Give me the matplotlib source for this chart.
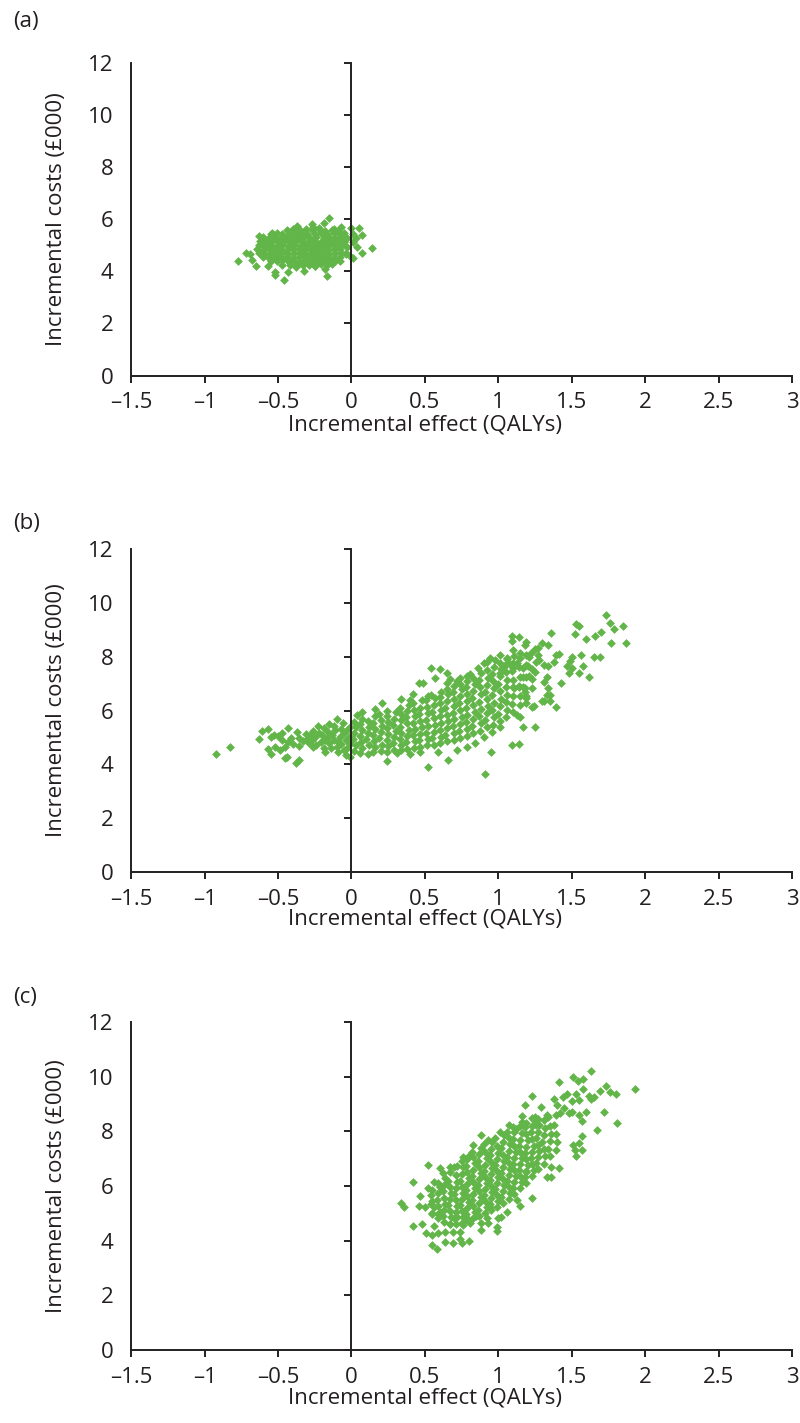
import matplotlib
matplotlib.use('Agg')
import matplotlib.pyplot as plt

plt.rcParams['font.family'] = ['Open Sans', 'DejaVu Sans']

green = '#62b548'
dark = '#231f20'

x_ticks = [-1.5, -1, -0.5, 0, 0.5, 1, 1.5, 2, 2.5, 3]
x_tick_labels = ['\u20131.5', '\u20131', '\u20130.5', '0', '0.5', '1', '1.5', '2', '2.5', '3']
y_ticks = [0, 2, 4, 6, 8, 10, 12]
panel_labels = ['(a)', '(b)', '(c)']
x_title = 'Incremental effect (QALYs)'
y_title = 'Incremental costs (\u00a3000)'

# (a) bootstrap replicates: scattered edge points, then the dense core
a_edge = [(-0.15,6.06),(-0.77,4.41),(-0.72,4.72),(-0.69,4.66),(-0.68,4.43),(-0.65,4.19),(-0.63,5.36),
          (-0.54,5.49),(-0.52,3.96),(-0.52,3.87),(-0.46,3.67),(-0.43,3.96),(-0.37,5.74),(-0.32,4.02),
          (-0.27,5.81),(-0.26,5.71),(-0.22,5.68),(-0.19,5.87),(-0.18,4.09),(-0.17,3.83),(-0.13,4.28),
          (-0.12,5.62),(-0.08,4.41),(-0.07,5.71),(0.00,5.66),(0.01,5.43),(0.03,5.30),(0.05,5.66),
          (0.07,5.40),(0.01,5.11),(0.04,4.92),(0.07,4.72),(0.14,4.89),(-0.01,4.60),(0.01,4.51),
          (-0.03,4.92),(-0.25,4.22),(-0.38,4.15),(-0.59,4.92),(-0.61,5.17),(-0.57,4.22),(-0.34,4.28),
          (-0.06,5.17),(-0.04,4.66)]
a_core = [(-0.44,5.58),(-0.40,5.62),(-0.35,5.57),(-0.31,5.63),(-0.27,5.59),(-0.22,5.62),(-0.18,5.56),(-0.13,5.60),(-0.09,5.55),
          (-0.55,5.44),(-0.51,5.48),(-0.47,5.43),(-0.42,5.47),(-0.38,5.44),(-0.34,5.49),(-0.30,5.45),(-0.25,5.42),(-0.21,5.47),
          (-0.17,5.44),(-0.12,5.48),(-0.08,5.43),(-0.05,5.46),
          (-0.60,5.31),(-0.56,5.28),(-0.52,5.32),(-0.48,5.29),(-0.44,5.33),(-0.40,5.30),(-0.36,5.27),(-0.32,5.32),(-0.28,5.29),
          (-0.24,5.31),(-0.19,5.28),(-0.15,5.33),(-0.11,5.29),(-0.07,5.31),(-0.03,5.27),
          (-0.62,5.16),(-0.58,5.13),(-0.54,5.17),(-0.50,5.14),(-0.46,5.18),(-0.42,5.13),(-0.38,5.16),(-0.33,5.14),(-0.29,5.18),
          (-0.25,5.15),(-0.21,5.12),(-0.17,5.17),(-0.13,5.14),(-0.09,5.16),(-0.05,5.13),
          (-0.63,5.01),(-0.59,4.98),(-0.55,5.02),(-0.51,4.99),(-0.47,5.03),(-0.43,4.98),(-0.39,5.01),(-0.35,4.97),(-0.31,5.02),
          (-0.27,4.99),(-0.23,5.03),(-0.19,4.98),(-0.15,5.01),(-0.11,4.97),(-0.07,5.02),
          (-0.64,4.86),(-0.60,4.83),(-0.56,4.87),(-0.52,4.84),(-0.48,4.86),(-0.44,4.82),(-0.40,4.87),(-0.36,4.85),(-0.32,4.83),
          (-0.28,4.87),(-0.24,4.84),(-0.20,4.86),(-0.16,4.83),(-0.12,4.87),(-0.08,4.84),
          (-0.63,4.71),(-0.59,4.68),(-0.55,4.72),(-0.51,4.69),(-0.47,4.71),(-0.43,4.67),(-0.39,4.72),(-0.35,4.70),(-0.31,4.68),
          (-0.27,4.72),(-0.23,4.69),(-0.19,4.71),(-0.15,4.67),(-0.11,4.72),(-0.07,4.69),(-0.04,4.71),
          (-0.60,4.56),(-0.56,4.53),(-0.52,4.57),(-0.48,4.54),(-0.44,4.56),(-0.40,4.52),(-0.36,4.57),(-0.32,4.55),(-0.28,4.53),
          (-0.24,4.57),(-0.20,4.54),(-0.16,4.56),(-0.12,4.52),(-0.08,4.55),
          (-0.55,4.41),(-0.51,4.38),(-0.47,4.42),(-0.43,4.39),(-0.39,4.41),(-0.35,4.37),(-0.31,4.42),(-0.27,4.40),(-0.23,4.38),
          (-0.19,4.42),(-0.15,4.39),(-0.11,4.41),
          (-0.47,4.26),(-0.42,4.23),(-0.37,4.27),(-0.33,4.24),(-0.29,4.26),(-0.25,4.22),(-0.21,4.27),(-0.17,4.25)]

# (b)
b_edge = [(-0.92,4.37),(-0.83,4.63),(-0.63,4.94),(-0.61,5.24),(-0.57,5.30),(-0.57,4.57),(-0.55,4.38),(-0.55,5.00),
          (-0.53,5.09),(-0.52,4.66),(-0.50,5.05),(-0.47,5.15),(-0.47,4.90),(-0.45,4.22),(-0.44,4.29),(-0.43,5.36),
          (-0.45,4.66),(-0.43,4.84),(-0.38,4.04),(-0.37,5.21),(-0.36,4.97),(-0.36,4.68),(-0.36,4.16),(-0.28,5.09),
          (-0.27,4.90),(-0.26,4.66),(-0.25,5.03),(-0.23,5.42),(-0.21,4.84),(-0.20,5.09),(-0.19,4.60),(-0.19,5.34),
          (-0.18,4.47),(-0.17,4.97),(-0.16,5.21),(-0.15,5.50),(-0.15,4.78),(-0.13,5.09),(-0.12,4.90),(-0.11,5.27),
          (-0.10,5.67),(-0.10,4.63),(-0.09,4.47),(-0.08,5.03),(-0.07,4.75),(-0.06,5.52),(-0.05,5.15),(-0.04,4.90),
          (-0.04,4.35),(-0.03,4.59),(-0.03,5.27),(-0.02,5.03),(-0.01,4.75),(-0.01,4.29),(-0.01,5.40),
          (-0.30,4.95),(-0.29,4.78),(-0.24,4.72),(-0.22,5.18),(-0.14,4.62),(-0.12,5.42),(-0.07,5.30),(-0.05,4.55),
          (-0.31,5.12),(-0.33,4.85),(-0.26,5.25),(-0.18,4.92),(-0.09,4.82),(-0.02,4.85),(-0.49,4.52),(-0.41,4.96),
          (-0.40,4.75),
          (1.73,9.55),(1.53,9.21),(1.55,9.15),(1.76,9.26),(1.79,9.02),(1.85,9.15),(1.87,8.49),(1.77,8.49),(1.70,8.90),
          (1.66,8.78),(1.60,8.64),(1.52,8.84),(1.65,7.97),(1.69,7.97),(1.56,8.06),(1.50,7.97),(1.49,7.85),(1.47,7.65),
          (1.50,7.57),(1.58,7.65),(1.48,7.38),(1.55,7.40),(1.62,7.23),(1.43,7.01),(1.36,8.89),(1.34,8.43),(1.30,8.49),
          (1.41,8.10),(1.39,8.06),(1.38,7.81),(1.34,7.65),(1.31,7.69),(1.33,7.26),(1.34,6.82),(1.35,6.58),(1.33,6.58),
          (1.31,6.37),(1.35,6.37),(1.39,6.12),(1.31,7.07),(1.25,8.27),(1.27,8.31),(1.19,8.56),(1.18,8.43),(1.14,8.72),
          (1.09,8.78),(1.09,8.59),(1.10,8.25),(1.15,8.15),(1.21,7.97),(1.26,7.81),(1.22,8.12),(1.27,8.06),(1.28,7.87),
          (1.23,7.53),(1.25,7.44),(1.19,7.69),(1.17,7.57),(1.17,7.26),(1.21,7.28),(1.23,7.16),(1.17,6.88),(1.18,6.70),
          (1.23,6.82),(1.19,6.54),(1.19,6.29),(1.24,6.17),(1.23,6.14),(1.13,5.83),(1.15,5.77),(1.30,6.37),(0.94,7.94),
          (1.01,8.06),(1.06,7.94),(1.08,7.73),(1.13,7.78),(1.10,7.57),(1.04,7.60),(0.98,7.88),(0.92,7.81),(0.90,7.78),
          (0.86,7.57),(0.81,7.34),(0.79,7.28),(0.74,7.19),(0.72,7.11),(0.65,7.38),(0.60,7.53),(0.54,7.57),(0.57,7.19),
          (0.49,7.01),(0.65,7.03),(0.67,7.16),(0.54,6.56),(1.01,7.40),(1.14,6.88),(1.10,6.88),
          (0.91,3.63),(0.52,3.91),(0.66,4.16),(0.24,4.12),(1.09,4.71),(1.14,4.74),(0.95,4.45),(1.25,5.40),(1.17,5.40),
          (0.31,4.41),(0.40,4.37),(0.47,4.47),(0.59,4.47),(0.72,4.53),(0.79,4.66),(0.84,4.80),(0.90,5.03),(0.96,5.21),
          (1.01,5.40),(0.34,6.43),(0.40,6.39),(0.21,6.27),(0.16,6.04),(0.07,5.96),(0.04,5.83),(0.42,6.60),(0.46,7.01)]
b_core = [(0.02,4.48),(0.03,4.70),(0.01,4.93),(0.02,5.15),(0.03,5.38),(0.02,5.58),
          (0.06,4.42),(0.07,4.60),(0.065,4.82),(0.06,5.05),(0.07,5.27),(0.06,5.49),(0.07,5.68),
          (0.11,4.38),(0.12,4.71),(0.10,4.93),(0.11,5.16),(0.12,5.38),(0.11,5.60),
          (0.15,4.45),(0.16,4.66),(0.155,4.88),(0.15,5.10),(0.16,5.32),(0.15,5.55),(0.16,5.78),
          (0.20,4.50),(0.21,4.73),(0.19,4.96),(0.20,5.20),(0.21,5.43),(0.20,5.66),(0.19,5.88),
          (0.245,4.47),(0.25,4.68),(0.24,4.90),(0.25,5.12),(0.24,5.35),(0.25,5.58),(0.245,5.80),(0.24,6.00),
          (0.29,4.55),(0.28,4.78),(0.29,5.01),(0.30,5.24),(0.28,5.46),(0.29,5.70),(0.30,5.93),
          (0.335,4.52),(0.34,4.72),(0.33,4.95),(0.34,5.17),(0.33,5.40),(0.34,5.63),(0.335,5.86),(0.33,6.08),
          (0.38,4.58),(0.37,4.82),(0.38,5.05),(0.39,5.28),(0.38,5.52),(0.37,5.75),(0.38,5.98),(0.39,6.20),
          (0.425,4.62),(0.43,4.85),(0.42,5.08),(0.43,5.31),(0.42,5.55),(0.43,5.78),(0.425,6.02),(0.42,6.28),
          (0.47,4.65),(0.46,4.90),(0.47,5.14),(0.48,5.38),(0.47,5.62),(0.46,5.86),(0.47,6.10),(0.48,6.38),
          (0.515,4.70),(0.52,4.94),(0.51,5.18),(0.52,5.42),(0.51,5.66),(0.52,5.90),(0.515,6.14),(0.51,6.40),(0.52,6.55),
          (0.56,4.73),(0.55,4.98),(0.56,5.22),(0.57,5.47),(0.56,5.72),(0.55,5.96),(0.56,6.22),(0.57,6.48),
          (0.605,4.78),(0.61,5.03),(0.60,5.28),(0.61,5.53),(0.60,5.78),(0.61,6.03),(0.605,6.28),(0.60,6.52),(0.61,6.70),
          (0.65,4.85),(0.64,5.10),(0.65,5.35),(0.66,5.60),(0.65,5.85),(0.64,6.10),(0.65,6.35),(0.66,6.60),(0.65,6.80),
          (0.695,4.92),(0.70,5.17),(0.69,5.42),(0.70,5.67),(0.69,5.92),(0.70,6.17),(0.695,6.42),(0.69,6.67),(0.70,6.90),
          (0.74,4.98),(0.73,5.24),(0.74,5.50),(0.75,5.76),(0.74,6.02),(0.73,6.28),(0.74,6.54),(0.75,6.80),(0.74,7.00),
          (0.785,5.05),(0.79,5.31),(0.78,5.57),(0.79,5.83),(0.78,6.09),(0.79,6.35),(0.785,6.61),(0.78,6.87),(0.79,7.10),
          (0.83,5.15),(0.82,5.41),(0.83,5.67),(0.84,5.93),(0.83,6.19),(0.82,6.45),(0.83,6.71),(0.84,6.97),(0.83,7.20),
          (0.875,5.25),(0.88,5.52),(0.87,5.79),(0.88,6.06),(0.87,6.33),(0.88,6.60),(0.875,6.87),(0.87,7.14),(0.88,7.40),
          (0.92,5.38),(0.91,5.64),(0.92,5.90),(0.93,6.16),(0.92,6.42),(0.91,6.68),(0.92,6.94),(0.93,7.20),(0.92,7.50),
          (0.965,5.48),(0.97,5.75),(0.96,6.02),(0.97,6.29),(0.96,6.56),(0.97,6.83),(0.965,7.10),(0.96,7.37),(0.97,7.60),
          (1.01,5.60),(1.00,5.88),(1.01,6.16),(1.02,6.44),(1.01,6.72),(1.00,7.00),(1.01,7.28),(1.02,7.56),(1.01,7.75),
          (1.055,5.75),(1.06,6.03),(1.05,6.31),(1.06,6.59),(1.05,6.87),(1.06,7.15),(1.055,7.43),(1.05,7.71),(1.06,7.90),
          (1.10,5.95),(1.09,6.25),(1.10,6.55),(1.11,6.85),(1.10,7.15),(1.09,7.45),(1.10,7.75),(1.11,8.02),
          (1.145,6.20),(1.15,6.55),(1.14,6.90),(1.15,7.25),(1.14,7.60),(1.15,7.95),
          (1.19,6.45),(1.18,6.85),(1.19,7.25),(1.20,7.65),(1.19,8.05)]

# (c)
c_edge = [(1.63,10.22),(1.51,9.98),(1.54,9.85),(1.58,9.92),(1.41,9.79),(1.93,9.55),(1.73,9.66),(1.69,9.49),
          (1.76,9.43),(1.80,9.37),(1.63,9.18),(1.65,9.24),(1.62,9.31),(1.58,9.55),(1.53,9.37),(1.47,9.37),
          (1.44,9.27),(1.50,9.12),(1.55,9.15),(1.38,9.18),(1.23,9.29),(1.18,8.96),(1.29,8.88),(1.40,8.96),
          (1.72,8.72),(1.60,8.72),(1.57,8.39),(1.81,8.32),(1.67,8.05),(1.57,7.83),(1.55,7.59),(1.57,7.32),
          (1.53,7.10),(1.52,7.32),(1.51,7.50),(1.41,6.65),(1.36,6.68),(1.36,6.34),(1.33,6.32),(1.23,5.55),
          (1.15,5.27),(1.19,6.52),(1.23,8.48),(1.16,8.56),(1.16,8.35),(1.25,8.54),(1.26,8.23),(1.33,8.60),
          (1.42,8.66),(1.45,8.84),(1.48,8.66),(1.50,8.72),(1.55,8.60),(1.10,8.17),(1.07,8.23),(1.01,7.99),
          (0.88,7.87),(0.83,7.50),(0.93,7.68),(0.76,7.07),(0.80,7.11),(0.52,6.77),(0.60,6.65),(0.62,6.46),
          (0.67,6.71),(0.72,6.73),(0.42,6.16),(0.56,6.16),(0.52,5.92),(0.60,6.00),(0.47,5.63),(0.34,5.37),
          (0.36,5.24),(0.46,5.27),(0.50,5.24),(0.42,4.55),(0.48,4.60),(0.51,4.29),(0.55,4.21),(0.56,4.54),
          (0.55,3.84),(0.58,3.71),(0.64,3.96),(0.69,3.93),(0.74,4.06),(0.75,3.90),(0.80,4.00),(0.59,4.27),
          (0.64,4.33),(0.67,4.61),(0.69,4.33),(0.74,4.33),(0.76,4.57),(0.81,4.63),(0.88,4.39),(0.88,4.63),
          (0.92,4.82),(0.93,4.63),(0.99,4.51),(0.99,4.37),(1.00,4.82),(1.02,4.88),(1.06,5.06),(1.13,5.49),
          (0.94,5.24),(0.85,4.90),(0.79,4.82),(0.72,4.88),(0.59,4.98),(0.54,5.34),(0.55,4.98)]
c_core = [(0.55,5.00),(0.56,5.22),(0.55,5.45),(0.54,5.68),(0.55,5.86),
          (0.59,4.82),(0.60,5.05),(0.59,5.28),(0.58,5.50),(0.59,5.73),(0.60,5.95),(0.59,6.10),
          (0.63,4.68),(0.62,4.90),(0.63,5.12),(0.64,5.35),(0.63,5.57),(0.62,5.80),(0.63,6.02),(0.64,6.30),
          (0.67,4.62),(0.68,4.85),(0.67,5.07),(0.66,5.30),(0.67,5.52),(0.68,5.75),(0.67,5.98),(0.66,6.20),(0.67,6.50),
          (0.71,4.62),(0.70,4.84),(0.71,5.06),(0.72,5.28),(0.71,5.50),(0.70,5.72),(0.71,5.94),(0.72,6.16),(0.71,6.40),(0.70,6.70),
          (0.75,4.66),(0.76,4.88),(0.75,5.10),(0.74,5.32),(0.75,5.54),(0.76,5.76),(0.75,5.98),(0.74,6.20),(0.75,6.44),(0.76,6.68),
          (0.75,6.92),
          (0.79,4.74),(0.78,4.96),(0.79,5.18),(0.80,5.40),(0.79,5.62),(0.78,5.84),(0.79,6.06),(0.80,6.28),(0.79,6.50),(0.78,6.74),
          (0.79,6.98),(0.80,7.10),
          (0.83,4.84),(0.84,5.06),(0.83,5.28),(0.82,5.50),(0.83,5.72),(0.84,5.94),(0.83,6.16),(0.82,6.38),(0.83,6.60),(0.84,6.84),
          (0.83,7.06),(0.82,7.24),
          (0.87,4.92),(0.86,5.14),(0.87,5.36),(0.88,5.58),(0.87,5.80),(0.86,6.02),(0.87,6.24),(0.88,6.46),(0.87,6.68),(0.86,6.92),
          (0.87,7.16),(0.88,7.38),
          (0.91,5.02),(0.92,5.24),(0.91,5.46),(0.90,5.68),(0.91,5.90),(0.92,6.12),(0.91,6.34),(0.90,6.56),(0.91,6.78),(0.92,7.02),
          (0.91,7.26),(0.90,7.52),
          (0.95,5.12),(0.94,5.34),(0.95,5.56),(0.96,5.78),(0.95,6.00),(0.94,6.22),(0.95,6.44),(0.96,6.66),(0.95,6.88),(0.94,7.12),
          (0.95,7.36),(0.96,7.62),
          (0.99,5.22),(1.00,5.44),(0.99,5.66),(0.98,5.88),(0.99,6.10),(1.00,6.32),(0.99,6.54),(0.98,6.76),(0.99,6.98),(1.00,7.22),
          (0.99,7.48),(0.98,7.76),
          (1.03,5.38),(1.02,5.60),(1.03,5.82),(1.04,6.04),(1.03,6.26),(1.02,6.48),(1.03,6.70),(1.04,6.92),(1.03,7.14),(1.02,7.38),
          (1.03,7.62),(1.04,7.88),
          (1.07,5.52),(1.08,5.74),(1.07,5.96),(1.06,6.18),(1.07,6.40),(1.08,6.62),(1.07,6.84),(1.06,7.06),(1.07,7.28),(1.08,7.52),
          (1.07,7.76),(1.06,7.98),
          (1.11,5.72),(1.10,5.94),(1.11,6.16),(1.12,6.38),(1.11,6.60),(1.10,6.82),(1.11,7.04),(1.12,7.26),(1.11,7.48),(1.10,7.72),
          (1.11,7.96),(1.12,8.08),
          (1.15,5.92),(1.16,6.14),(1.15,6.36),(1.14,6.58),(1.15,6.80),(1.16,7.02),(1.15,7.24),(1.14,7.46),(1.15,7.70),(1.16,7.94),
          (1.15,8.18),
          (1.19,6.12),(1.18,6.34),(1.19,6.56),(1.20,6.78),(1.19,7.00),(1.18,7.22),(1.19,7.44),(1.20,7.68),(1.19,7.92),(1.18,8.16),
          (1.19,8.30),
          (1.23,6.38),(1.24,6.60),(1.23,6.82),(1.22,7.04),(1.23,7.26),(1.24,7.48),(1.23,7.72),(1.22,7.96),(1.23,8.20),(1.24,8.40),
          (1.27,6.62),(1.26,6.84),(1.27,7.06),(1.28,7.28),(1.27,7.50),(1.26,7.74),(1.27,7.98),(1.28,8.22),(1.27,8.44),
          (1.31,6.82),(1.32,7.08),(1.31,7.34),(1.30,7.60),(1.31,7.86),(1.32,8.12),(1.31,8.40),
          (1.35,7.08),(1.34,7.36),(1.35,7.64),(1.36,7.92),(1.35,8.20),(1.34,8.52),
          (1.39,7.32),(1.40,7.62),(1.39,7.92),(1.38,8.22),(1.39,8.58)]

panels = [a_edge + a_core, b_edge + b_core, c_edge + c_core]

fig = plt.figure(figsize=(8, 14.23), dpi=100)
H = 1423.0
fs = 16
boxes = [[0.164, 0.7361, 0.826, 0.2196], [0.164, 0.3872, 0.826, 0.227], [0.164, 0.0513, 0.826, 0.2305]]
letter_y = [22, 524, 997]
xlab_y = [425, 919, 1398]

for box, pts, lab, ly, xy in zip(boxes, panels, panel_labels, letter_y, xlab_y):
    ax = fig.add_axes(box)
    xs = [p[0] for p in pts]
    ys = [p[1] for p in pts]
    ax.scatter(xs, ys, s=20, marker='D', color=green, linewidths=0, zorder=3)
    ax.set_xlim(-1.5, 3)
    ax.set_ylim(0, 12)
    ax.set_xticks(x_ticks)
    ax.set_xticklabels(x_tick_labels)
    ax.set_yticks(y_ticks)
    for s in ['top', 'right']:
        ax.spines[s].set_visible(False)
    for s in ['left', 'bottom']:
        ax.spines[s].set_linewidth(1.4)
        ax.spines[s].set_color(dark)
    ax.tick_params(axis='y', length=0, pad=13, labelsize=fs, labelcolor=dark)
    ax.tick_params(axis='x', direction='out', length=5, width=1.4, color=dark, pad=7,
                   labelsize=fs, labelcolor=dark)
    # vertical axis crossing at x = 0 with outward ticks
    sec = ax.secondary_yaxis(1 / 3)
    sec.set_yticks(y_ticks)
    sec.tick_params(axis='y', direction='out', length=5, width=1.4, color=dark,
                    labelleft=False, labelright=False)
    sec.spines['left'].set_linewidth(1.4)
    sec.spines['left'].set_color(dark)
    sec.set_zorder(4)

    fig.text(13 / 800, 1 - ly / H, lab, ha='left', va='center', fontsize=fs, color=dark)
    fig.text(425 / 800, 1 - xy / H, x_title, ha='center', va='center', fontsize=fs, color=dark)
    yc = box[1] + box[3] / 2
    fig.text(57 / 800, yc, y_title, rotation=90, ha='center', va='center', fontsize=fs, color=dark)

fig.savefig('out.png', dpi=100)
